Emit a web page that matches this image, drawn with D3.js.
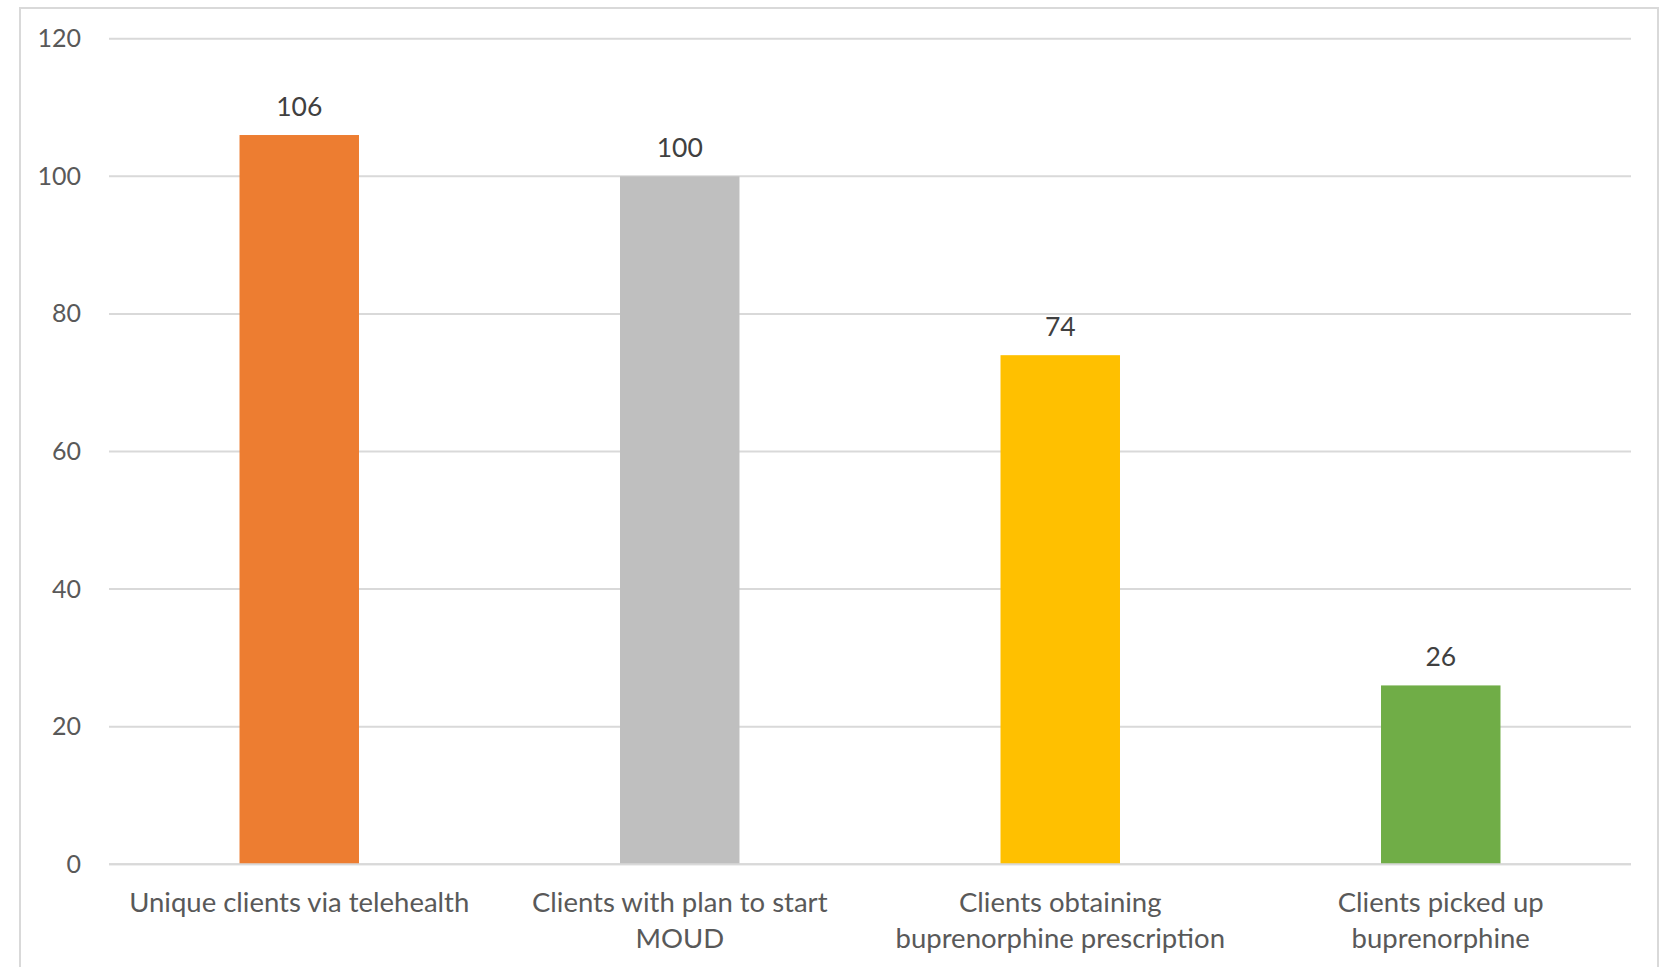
<!DOCTYPE html>
<html>
<head>
<meta charset="utf-8">
<script src="https://cdn.jsdelivr.net/npm/d3@7"></script>
<style>
  html, body { margin: 0; padding: 0; background: #ffffff; }
  svg { display: block; }
  text { font-family: Lato, "Open Sans", sans-serif; }
</style>
</head>
<body>
<svg id="chart" width="1667" height="967"></svg>
<script>
const categories = [
  "Unique clients via telehealth",
  "Clients with plan to start\nMOUD",
  "Clients obtaining\nbuprenorphine prescription",
  "Clients picked up\nbuprenorphine"
];
const values = [106, 100, 74, 26];
const barColors = ["#ED7D31", "#BFBFBF", "#FFC000", "#70AD47"];
const yTicks = [0, 20, 40, 60, 80, 100, 120];

const svg = d3.select("#chart");
const plot = { left: 109, right: 1631, top: 38.7, bottom: 864.3 };

// outer chart border
svg.append("rect")
  .attr("x", 20).attr("y", 8)
  .attr("width", 1638).attr("height", 980)
  .attr("fill", "#ffffff")
  .attr("stroke", "#d9d9d9").attr("stroke-width", 2);

const x = d3.scaleBand()
  .domain(categories)
  .range([plot.left, plot.right])
  .paddingInner(0.686)
  .paddingOuter(0.343);

const y = d3.scaleLinear()
  .domain([0, 120])
  .range([plot.bottom, plot.top]);

// gridlines
svg.append("g")
  .selectAll("line")
  .data(yTicks)
  .join("line")
  .attr("x1", plot.left).attr("x2", plot.right)
  .attr("y1", d => y(d)).attr("y2", d => y(d))
  .attr("stroke", "#d9d9d9").attr("stroke-width", 2);

// y tick labels
const yAxis = d3.axisLeft(y).tickValues(yTicks).tickSize(0).tickPadding(28);
const gy = svg.append("g").attr("transform", `translate(${plot.left},0)`).call(yAxis);
gy.select(".domain").remove();
gy.selectAll("text")
  .attr("fill", "#595959")
  .style("font-size", "25px")
  .style("font-family", "Lato, 'Open Sans', sans-serif");

// bars
svg.append("g")
  .selectAll("rect")
  .data(categories)
  .join("rect")
  .attr("x", d => x(d))
  .attr("width", x.bandwidth())
  .attr("y", (d, i) => y(values[i]))
  .attr("height", (d, i) => y(0) - y(values[i]))
  .attr("fill", (d, i) => barColors[i]);

// value labels
svg.append("g")
  .selectAll("text")
  .data(categories)
  .join("text")
  .attr("x", d => x(d) + x.bandwidth() / 2)
  .attr("y", (d, i) => y(values[i]) - 19)
  .attr("text-anchor", "middle")
  .attr("fill", "#404040")
  .style("font-size", "26.5px")
  .text((d, i) => values[i]);

// x axis line
svg.append("line")
  .attr("x1", plot.left).attr("x2", plot.right)
  .attr("y1", y(0)).attr("y2", y(0))
  .attr("stroke", "#d9d9d9").attr("stroke-width", 2);

// x category labels
const xl = svg.append("g")
  .selectAll("text")
  .data(categories)
  .join("text")
  .attr("x", d => x(d) + x.bandwidth() / 2)
  .attr("y", 912)
  .attr("text-anchor", "middle")
  .attr("fill", "#595959")
  .style("font-size", "27.5px");
xl.each(function(d) {
  const lines = d.split("\n");
  const t = d3.select(this);
  lines.forEach((ln, i) => {
    t.append("tspan")
      .attr("x", x(d) + x.bandwidth() / 2)
      .attr("dy", i === 0 ? 0 : 36)
      .text(ln);
  });
});
</script>
</body>
</html>
